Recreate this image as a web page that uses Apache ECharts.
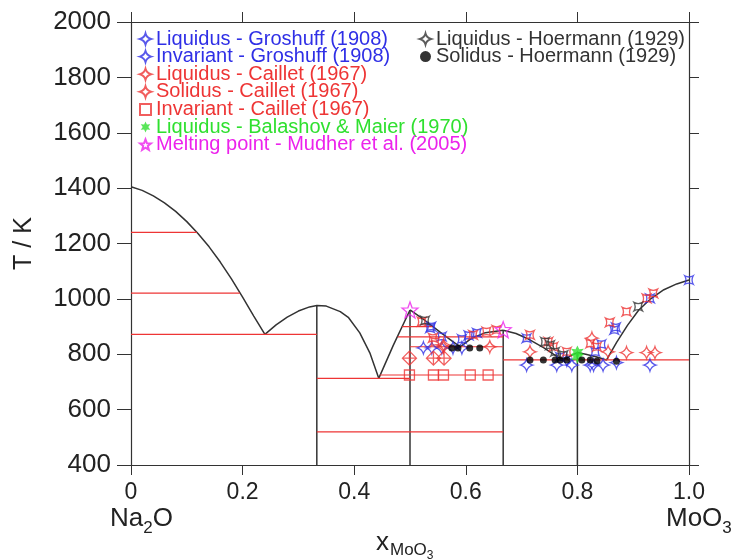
<!DOCTYPE html>
<html>
<head>
<meta charset="utf-8">
<script src="https://cdn.jsdelivr.net/npm/echarts@6/dist/echarts.min.js"></script>
<style>
  html, body { margin: 0; padding: 0; background: #fff; }
  #main { width: 740px; height: 559px; }
</style>
</head>
<body>
<div id="main"></div>
<script>
// tick labels
const xTickLabels = ['0', '0.2', '0.4', '0.6', '0.8', '1.0']

// calculated liquidus (black), one array per branch
const liqA = [[0, 1405], [0.02, 1392], [0.04, 1372], [0.06, 1347], [0.08, 1316], [0.10, 1279], [0.12, 1236], [0.14, 1188], [0.16, 1133], [0.18, 1072], [0.20, 1006], [0.22, 938], [0.24, 872]]
const liqB = [[0.24, 872], [0.26, 906], [0.28, 934], [0.30, 956], [0.32, 971], [0.333, 976], [0.35, 974], [0.375, 954], [0.39, 932], [0.41, 877], [0.428, 805], [0.444, 713]]
const liqC = [[0.444, 713], [0.47, 832], [0.5, 960]]
const liqD = [[0.5, 960], [0.527, 922], [0.554, 880], [0.575, 848], [0.59, 827], [0.61, 857], [0.635, 878], [0.667, 887]]
const liqE = [[0.667, 887], [0.69, 875], [0.71, 857], [0.74, 823], [0.765, 790], [0.775, 780], [0.79, 797], [0.8, 806], [0.815, 800], [0.835, 790], [0.852, 779], [0.87, 842], [0.89, 905], [0.91, 960], [0.93, 998], [0.955, 1033], [0.978, 1054], [1.0, 1068]]
// compounds (vertical lines): [x, top T]
const compounds = [[0.333, 976], [0.5, 960], [0.667, 887], [0.8, 806]]
// invariant lines (red): [x from, x to, T]
const invariants = [[0, 0.118, 1240], [0, 0.195, 1021], [0, 0.333, 872], [0.333, 0.5, 713], [0.446, 0.667, 725], [0.333, 0.667, 520], [0.486, 0.54, 900], [0.478, 0.667, 863], [0.5, 0.667, 827], [0.667, 1.0, 780]]

// experimental points
const liqGroshuff = [[0.536, 894], [0.557, 864], [0.538, 900], [0.593, 855], [0.605, 868], [0.62, 877], [0.709, 858], [0.769, 790], [0.832, 809], [0.843, 836], [0.866, 888], [0.869, 897], [0.93, 1002], [1.0, 1068]]
const invGroshuff = [[0.524, 823], [0.539, 823], [0.557, 823], [0.577, 823], [0.593, 823], [0.709, 761], [0.763, 761], [0.781, 779], [0.79, 761], [0.823, 761], [0.829, 761], [0.846, 761], [0.87, 770], [0.93, 761]]
const liqCaillet = [[0.521, 918], [0.541, 859], [0.545, 845], [0.613, 870], [0.637, 882], [0.655, 888], [0.715, 870], [0.748, 845], [0.757, 827], [0.781, 809], [0.823, 839], [0.835, 827], [0.858, 915], [0.888, 954], [0.924, 1002], [0.936, 1020]]
const solCaillet = [[0.56, 834], [0.56, 826], [0.643, 827], [0.715, 809], [0.826, 858], [0.855, 809], [0.888, 806], [0.924, 806], [0.939, 806]]
const invCaillet = [[0.499, 725], [0.542, 725], [0.56, 725], [0.608, 725], [0.64, 725]]
const transCaillet = [[0.499, 786], [0.542, 786], [0.561, 786]]
const liqBalashov = [[0.8, 808], [0.8, 790]]
const meltMudher = [[0.5, 960], [0.667, 889]]
const liqHoermann = [[0.527, 922], [0.742, 845], [0.751, 833], [0.76, 809], [0.775, 797], [0.909, 972]]
const solHoermann = [[0.575, 823], [0.586, 823], [0.607, 823], [0.625, 823], [0.715, 779], [0.739, 779], [0.76, 779], [0.769, 779], [0.781, 779], [0.808, 779], [0.823, 779], [0.835, 776], [0.87, 775]]

const BLUE = '#2f2fe6'
const RED = '#ee3535'
const GREEN = '#2fe02f'
const MAGENTA = '#ec22ec'
const DARK = '#333333'

const STAR4 = 'path://M0,-10Q2.2,-2.2 10,0Q2.2,2.2 0,10Q-2.2,2.2 -10,0Q-2.2,-2.2 0,-10Z'
const STAR6 = 'path://M0,-10L2.5,-4.33L8.66,-5L5,0L8.66,5L2.5,4.33L0,10L-2.5,4.33L-8.66,5L-5,0L-8.66,-5L-2.5,-4.33Z'
const STAR5 = 'path://M0,-10L2.47,-3.4L9.51,-3.09L3.99,1.3L5.88,8.09L0,4.2L-5.88,8.09L-3.99,1.3L-9.51,-3.09L-2.47,-3.4Z'
const DIAMOND = 'path://M0,-10L10,0L0,10L-10,0Z M0,-10L0,10 M-10,0L10,0'

function points(name, data, symbol, color, size, rotate, filled) {
  return {
    type: 'scatter',
    name: name,
    data: data,
    symbol: symbol,
    symbolSize: size,
    symbolRotate: rotate,
    z: 5,
    itemStyle: {
      color: filled ? color : 'rgba(255,255,255,0)',
      borderColor: color,
      borderWidth: filled ? 0 : 1.3,
    },
  }
}

function segment(data, color, width) {
  return {
    type: 'line',
    data: data,
    showSymbol: false,
    silent: true,
    z: 2,
    lineStyle: {color: color, width: width},
    itemStyle: {color: color},
  }
}

const series = []
;[liqA, liqB, liqC, liqD, liqE].forEach(d => series.push(segment(d, DARK, 1.5)))
compounds.forEach(c => series.push(segment([[c[0], c[1]], [c[0], 400]], DARK, 1.5)))
invariants.forEach(s => series.push(segment([[s[0], s[2]], [s[1], s[2]]], RED, 1.2)))

series.push(
  points('Liquidus - Groshuff (1908)', liqGroshuff, STAR4, BLUE, 12, 45, false),
  points('Invariant - Groshuff (1908)', invGroshuff, STAR4, BLUE, 12, 0, false),
  points('Liquidus - Caillet (1967)', liqCaillet, STAR4, RED, 12, 45, false),
  points('Solidus - Caillet (1967)', solCaillet, STAR4, RED, 12, 0, false),
  points('Invariant - Caillet (1967)', invCaillet, 'rect', RED, 10, 0, false),
  points('transition - Caillet', transCaillet, DIAMOND, RED, 14, 0, false),
  points('Liquidus - Balashov & Maier (1970)', liqBalashov, STAR6, GREEN, 13, 0, true),
  points('Melting point - Mudher et al. (2005)', meltMudher, STAR5, MAGENTA, 16, 0, false),
  points('Liquidus - Hoermann (1929)', liqHoermann, STAR4, DARK, 12, 45, false),
  points('Solidus - Hoermann (1929)', solHoermann, 'circle', '#000', 7, 0, true),
)

const legendFont = {fontFamily: 'Liberation Sans', fontSize: 20}
function legendItems(names, colors) {
  return names.map((n, i) => ({name: n, textStyle: {color: colors[i]}}))
}

const axisLine = {show: true, onZero: false, lineStyle: {color: DARK, width: 1.2}}

const option = {
  animation: false,
  backgroundColor: '#ffffff',
  grid: {left: 131, right: 51, top: 22, bottom: 94},
  legend: [
    {
      orient: 'vertical',
      left: 134,
      top: 24,
      itemGap: -2.4,
      itemWidth: 11,
      itemHeight: 11,
      selectedMode: false,
      textStyle: legendFont,
      data: legendItems(
        ['Liquidus - Groshuff (1908)', 'Invariant - Groshuff (1908)', 'Liquidus - Caillet (1967)', 'Solidus - Caillet (1967)', 'Invariant - Caillet (1967)', 'Liquidus - Balashov & Maier (1970)', 'Melting point - Mudher et al. (2005)'],
        [BLUE, BLUE, RED, RED, RED, GREEN, MAGENTA]
      ),
    },
    {
      orient: 'vertical',
      left: 414,
      top: 24,
      itemGap: -2.4,
      itemWidth: 11,
      itemHeight: 11,
      selectedMode: false,
      textStyle: legendFont,
      data: legendItems(['Liquidus - Hoermann (1929)', 'Solidus - Hoermann (1929)'], [DARK, DARK]),
    },
  ],
  xAxis: [
    {
      type: 'value',
      position: 'bottom',
      min: 0,
      max: 1,
      interval: 0.2,
      axisLine: axisLine,
      axisTick: {show: true, length: 10, lineStyle: {color: DARK}},
      axisLabel: {
        margin: 16,
        fontFamily: 'Liberation Sans',
        fontSize: 23,
        color: '#222',
        formatter: v => xTickLabels[Math.round(v * 5)],
      },
      splitLine: {show: false},
    },
    {
      type: 'value',
      position: 'top',
      min: 0,
      max: 1,
      interval: 0.2,
      axisLine: axisLine,
      axisTick: {show: true, length: 10, lineStyle: {color: DARK}},
      axisLabel: {show: false},
      splitLine: {show: false},
    },
  ],
  yAxis: [
    {
      type: 'value',
      position: 'left',
      min: 400,
      max: 2000,
      interval: 200,
      name: 'T / K',
      nameLocation: 'middle',
      nameGap: 94,
      nameTextStyle: {fontFamily: 'Liberation Sans', fontSize: 25, color: '#222'},
      axisLine: axisLine,
      axisTick: {show: true, length: 14, lineStyle: {color: DARK}},
      axisLabel: {margin: 20, fontFamily: 'Liberation Sans', fontSize: 26, color: '#222', formatter: v => String(v)},
      splitLine: {show: false},
    },
    {
      type: 'value',
      position: 'right',
      min: 400,
      max: 2000,
      interval: 200,
      axisLine: axisLine,
      axisTick: {show: true, length: 10, lineStyle: {color: DARK}},
      axisLabel: {show: false},
      splitLine: {show: false},
    },
  ],
  graphic: [
    {
      type: 'text',
      left: 110,
      top: 506,
      style: {
        text: '{a|Na}{b|2}{a|O}',
        fill: '#222',
        rich: {
          a: {fontFamily: 'Liberation Sans', fontSize: 26, lineHeight: 26, verticalAlign: 'top', fill: '#222'},
          b: {fontFamily: 'Liberation Sans', fontSize: 17, lineHeight: 17, padding: [14, 0, 0, 0], verticalAlign: 'top', fill: '#222'},
        },
      },
    },
    {
      type: 'text',
      left: 666,
      top: 506,
      style: {
        text: '{a|MoO}{b|3}',
        fill: '#222',
        rich: {
          a: {fontFamily: 'Liberation Sans', fontSize: 26, lineHeight: 26, verticalAlign: 'top', fill: '#222'},
          b: {fontFamily: 'Liberation Sans', fontSize: 17, lineHeight: 17, padding: [14, 0, 0, 0], verticalAlign: 'top', fill: '#222'},
        },
      },
    },
    {
      type: 'text',
      left: 376,
      top: 530,
      style: {
        text: '{a|x}{b|MoO}{c|3}',
        fill: '#222',
        rich: {
          a: {fontFamily: 'Liberation Sans', fontSize: 26, lineHeight: 22, verticalAlign: 'top', fill: '#222'},
          b: {fontFamily: 'Liberation Sans', fontSize: 17, lineHeight: 17, padding: [12, 0, 0, 1], verticalAlign: 'top', fill: '#222'},
          c: {fontFamily: 'Liberation Sans', fontSize: 12, lineHeight: 12, padding: [20, 0, 0, 0], verticalAlign: 'top', fill: '#222'},
        },
      },
    },
  ],
  series: series,
}

const chart = echarts.init(document.getElementById('main'), null, {renderer: 'canvas'})
chart.setOption(option)
</script>
</body>
</html>
